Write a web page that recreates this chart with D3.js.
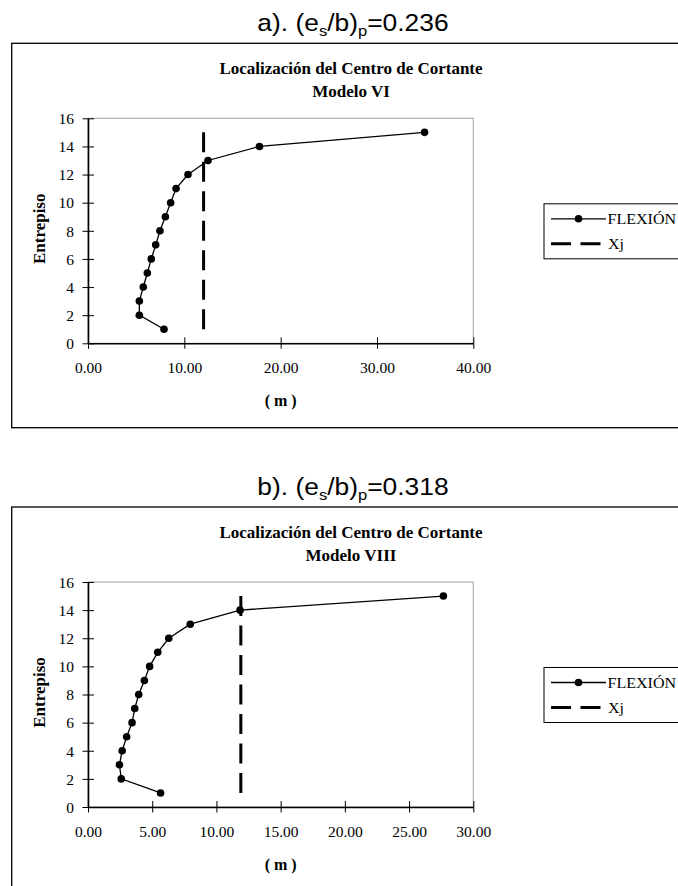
<!DOCTYPE html>
<html>
<head>
<meta charset="utf-8">
<script src="https://cdn.jsdelivr.net/npm/d3@7"></script>
<style>
  html, body { margin: 0; padding: 0; background: #fff; }
  svg { display: block; }
</style>
</head>
<body>
<svg id="fig" width="678" height="886"></svg>
<script>
// Storey numbers (entrepiso) shared by both models
const floors = [1, 2, 3, 4, 5, 6, 7, 8, 9, 10, 11, 12, 13, 14, 15];
const yTicks = [0, 2, 4, 6, 8, 10, 12, 14, 16];

// Modelo VI: shear-centre location per storey (m) and reference Xj
const flexionVI = [7.89, 5.33, 5.33, 5.74, 6.16, 6.57, 7.03, 7.47, 8.03, 8.58, 9.14, 10.38, 12.46, 17.8, 34.94];
const xjVI = 12.0;
const xTicksVI = [0, 10, 20, 30, 40];

// Modelo VIII
const flexionVIII = [5.65, 2.59, 2.45, 2.66, 3.01, 3.43, 3.64, 3.95, 4.39, 4.80, 5.43, 6.29, 7.96, 11.84, 27.67];
const xjVIII = 11.9;
const xTicksVIII = [0, 5, 10, 15, 20, 25, 30];

const panels = [
  { letter: "a", ratio: "0.236", model: "Modelo VI", values: flexionVI, xj: xjVI, xTicks: xTicksVI, boxTop: 43.3, boxH: 384.4 },
  { letter: "b", ratio: "0.318", model: "Modelo VIII", values: flexionVIII, xj: xjVIII, xTicks: xTicksVIII, boxTop: 507, boxH: 420 }
];

const svg = d3.select("#fig");
const serif = "'Liberation Serif', 'Times New Roman', serif";
const sans = "'Liberation Sans', Arial, sans-serif";
const fmt = d3.format(".2f");

panels.forEach(p => {
  const g = svg.append("g");
  const top = p.boxTop;

  // Heading above the chart frame: "a). (es/b)p=0.236"
  const head = g.append("text")
    .attr("transform", `translate(353,${top - 12}) scale(1.1,1)`)
    .attr("text-anchor", "middle")
    .style("font-family", sans).style("font-size", "24px").attr("fill", "#000");
  head.append("tspan").text(`${p.letter}). (e`);
  head.append("tspan").attr("dy", 5).style("font-size", "15px").text("s");
  head.append("tspan").attr("dy", -5).text("/b)");
  head.append("tspan").attr("dy", 5).style("font-size", "15px").text("p");
  head.append("tspan").attr("dy", -5).text(`=${p.ratio}`);

  // Chart frame
  g.append("rect")
    .attr("x", 11.7).attr("y", top)
    .attr("width", 700).attr("height", p.boxH)
    .attr("fill", "#fff").attr("stroke", "#000").attr("stroke-width", 1.3);

  // Chart titles
  g.append("text")
    .attr("x", 351).attr("y", top + 31)
    .attr("text-anchor", "middle")
    .style("font-family", serif).style("font-weight", "bold").style("font-size", "17px")
    .text("Localización del Centro de Cortante");
  g.append("text")
    .attr("x", 351).attr("y", top + 54)
    .attr("text-anchor", "middle")
    .style("font-family", serif).style("font-weight", "bold").style("font-size", "17px")
    .text(p.model);

  // Plot area
  const pl = 88, pr = 473.3, pt = top + 75, pb = top + 300;
  const x = d3.scaleLinear().domain([0, d3.max(p.xTicks)]).range([pl, pr]);
  const y = d3.scaleLinear().domain([0, 16]).range([pb, pt]);

  g.append("rect")
    .attr("x", pl).attr("y", pt).attr("width", pr - pl).attr("height", pb - pt)
    .attr("fill", "none").attr("stroke", "#a0a0a0").attr("stroke-width", 1);

  // X axis
  const xa = g.append("g").attr("transform", `translate(0,${pb})`)
    .call(d3.axisBottom(x).tickValues(p.xTicks).tickFormat(fmt).tickSize(6).tickSizeOuter(0));
  xa.select(".domain").attr("stroke", "#000").attr("stroke-width", 1.6);
  xa.selectAll(".tick line").attr("y1", -6).attr("y2", 5.5).attr("stroke", "#000").attr("stroke-width", 1);
  xa.selectAll(".tick text").attr("y", 29.5).attr("dy", 0)
    .style("font-family", serif).style("font-size", "15.5px").attr("fill", "#000");

  // Y axis
  const ya = g.append("g").attr("transform", `translate(${pl},0)`)
    .call(d3.axisLeft(y).tickValues(yTicks).tickFormat(d3.format("d")).tickSize(6).tickSizeOuter(0));
  ya.select(".domain").attr("stroke", "#000").attr("stroke-width", 1.6);
  ya.selectAll(".tick line").attr("x1", -5.5).attr("x2", 6).attr("stroke", "#000").attr("stroke-width", 1);
  ya.selectAll(".tick text").attr("x", -14).attr("dy", "0.34em")
    .style("font-family", serif).style("font-size", "15.5px").attr("fill", "#000");

  // Axis titles
  g.append("text")
    .attr("x", (pl + pr) / 2).attr("y", pb + 63)
    .attr("text-anchor", "middle")
    .style("font-family", serif).style("font-weight", "bold").style("font-size", "16px")
    .text("( m )");
  g.append("text")
    .attr("transform", `translate(45,${(pt + pb) / 2 - 2}) rotate(-90)`)
    .attr("text-anchor", "middle")
    .style("font-family", serif).style("font-weight", "bold").style("font-size", "17px")
    .text("Entrepiso");

  // Xj reference line (dashed) from first to last storey
  g.append("line")
    .attr("x1", x(p.xj)).attr("x2", x(p.xj))
    .attr("y1", y(floors[floors.length - 1])).attr("y2", y(floors[0]))
    .attr("stroke", "#000").attr("stroke-width", 3).attr("stroke-dasharray", "20,9.5");

  // FLEXIÓN series
  const pts = floors.map((f, i) => [p.values[i], f]);
  g.append("path")
    .datum(pts)
    .attr("fill", "none").attr("stroke", "#000").attr("stroke-width", 1.3)
    .attr("d", d3.line().x(d => x(d[0])).y(d => y(d[1])));
  g.selectAll("circle.pt").data(pts).join("circle")
    .attr("class", "pt")
    .attr("cx", d => x(d[0])).attr("cy", d => y(d[1])).attr("r", 3.8)
    .attr("fill", "#000");

  // Legend
  const ly = pt + 85.5;
  const lg = g.append("g");
  lg.append("rect").attr("x", 544).attr("y", ly).attr("width", 160).attr("height", 55)
    .attr("fill", "#fff").attr("stroke", "#000").attr("stroke-width", 1);
  lg.append("line").attr("x1", 551).attr("x2", 606).attr("y1", ly + 15).attr("y2", ly + 15)
    .attr("stroke", "#000").attr("stroke-width", 1.3);
  lg.append("circle").attr("cx", 578.5).attr("cy", ly + 15).attr("r", 3.8).attr("fill", "#000");
  lg.append("text").attr("transform", `translate(607.5,${ly + 20.3}) scale(1.07,1)`)
    .style("font-family", serif).style("font-size", "15px").text("FLEXIÓN");
  lg.append("line").attr("x1", 551).attr("x2", 606).attr("y1", ly + 40).attr("y2", ly + 40)
    .attr("stroke", "#000").attr("stroke-width", 3).attr("stroke-dasharray", "20,9.5");
  lg.append("text").attr("transform", `translate(608,${ly + 45.3}) scale(1.07,1)`)
    .style("font-family", serif).style("font-size", "15px").text("Xj");
});
</script>
</body>
</html>
